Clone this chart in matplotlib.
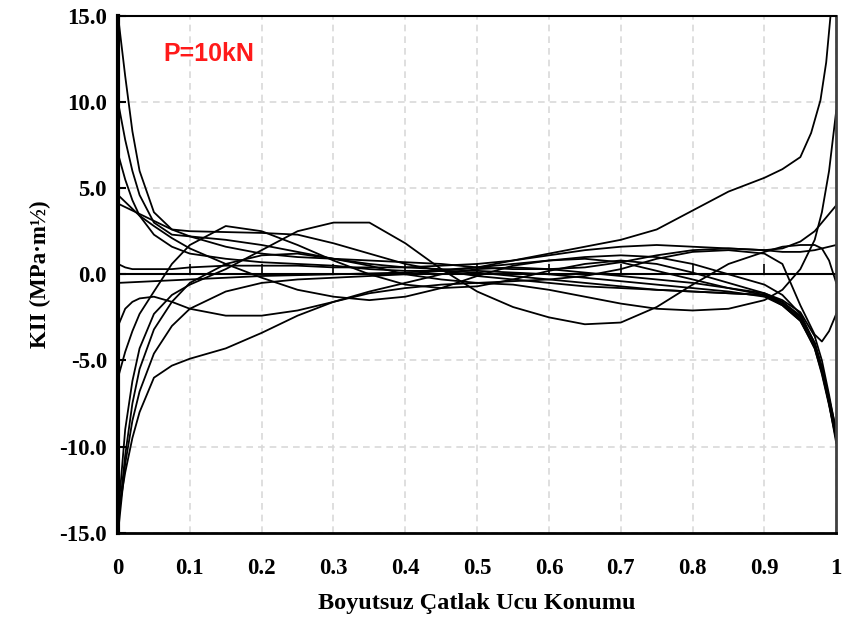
import matplotlib.pyplot as plt
import numpy as np

# x positions (dimensionless crack tip position)
x = [0, 0.01, 0.02, 0.03, 0.05, 0.075, 0.1, 0.15, 0.2, 0.25, 0.3, 0.35, 0.4, 0.45, 0.5,
     0.55, 0.6, 0.65, 0.7, 0.75, 0.8, 0.85, 0.9, 0.925, 0.95, 0.97, 0.98, 0.99, 1.0]

# KII curves
k1 = [15, 11.5, 8.3, 6.0, 3.6, 2.6, 2.5, 2.45, 2.4, 2.3, 1.8, 1.2, 0.6, 0.2, -0.1, -0.3, -0.5,
      -0.7, -0.8, -0.9, -1.0, -1.1, -1.2, -1.6, -2.4, -4.0, -5.5, -7.5, -9.8]
k2 = [10, 7.8, 6.0, 4.6, 3.0, 2.3, 2.2, 2.0, 1.7, 1.3, 0.9, 0.6, 0.4, 0.3, 0.2, 0.1, 0.0,
      -0.2, -0.4, -0.6, -0.8, -1.0, -1.3, -1.8, -2.7, -4.2, -5.5, -7.3, -9.3]
k3 = [7.0, 5.5, 4.3, 3.4, 2.3, 1.6, 1.2, 0.9, 0.7, 0.6, 0.5, 0.3, 0.2, 0.2, 0.1, -0.1, -0.3,
      -0.5, -0.7, -0.9, -1.0, -1.1, -1.2, -1.7, -2.6, -4.3, -5.8, -7.6, -9.6]
k4 = [4.6, 4.2, 3.8, 3.4, 2.8, 2.1, 1.5, 0.6, -0.2, -0.9, -1.3, -1.5, -1.3, -0.8, -0.1, 0.5,
      0.8, 0.9, 0.7, 0.2, -0.3, -0.8, -1.2, -1.8, -2.7, -4.3, -5.7, -7.5, -9.5]
k5 = [4.1, 3.9, 3.7, 3.5, 3.1, 2.6, 2.2, 1.6, 1.2, 1.0, 0.9, 0.8, 0.7, 0.6, 0.4, 0.3, 0.3,
      0.4, 0.7, 1.1, 1.4, 1.5, 1.4, 1.5, 1.9, 2.5, 3.0, 3.5, 4.0]
k6 = [0.6, 0.4, 0.3, 0.3, 0.3, 0.3, 0.4, 0.5, 0.5, 0.5, 0.4, 0.4, 0.4, 0.5, 0.6, 0.8, 1.1,
      1.4, 1.6, 1.7, 1.6, 1.5, 1.4, 1.3, 1.3, 1.4, 1.5, 1.6, 1.7]
k7 = [-3.0, -2.0, -1.6, -1.4, -1.3, -1.6, -2.0, -2.4, -2.4, -2.1, -1.6, -1.0, -0.5, 0.0, 0.3,
      0.4, 0.3, 0.1, -0.1, -0.3, -0.5, -0.8, -1.1, -1.6, -2.5, -4.0, -5.4, -7.2, -9.0]
k8 = [-6.0, -4.5, -3.3, -2.3, -1.0, 0.6, 1.7, 2.8, 2.5, 1.7, 0.8, 0.0, -0.6, -0.8, -0.7, -0.3,
      0.2, 0.6, 0.8, 0.6, 0.1, -0.5, -1.1, -1.5, -2.2, -3.6, -5.0, -7.0, -9.2]
k9 = [-14, -9.0, -6.2, -4.3, -2.3, -1.2, -0.6, 0.3, 1.4, 2.5, 3.0, 3.0, 1.8, 0.3, -1.0, -1.9,
      -2.5, -2.9, -2.8, -1.9, -0.6, 0.6, 1.3, 1.6, 1.7, 1.7, 1.5, 0.8, -0.5]
k10 = [-14.5, -10.5, -7.5, -5.5, -3.2, -1.6, -0.5, 0.6, 1.1, 1.2, 0.9, 0.5, 0.0, -0.3, -0.5,
       -0.6, -0.9, -1.3, -1.7, -2.0, -2.1, -2.0, -1.5, -0.9, 0.3, 2.0, 3.6, 6.0, 9.5]
k11 = [-14, -11.5, -9.5, -8.0, -6.0, -5.3, -4.9, -4.3, -3.4, -2.4, -1.6, -1.1, -0.8, -0.6,
       -0.5, -0.4, -0.3, -0.1, 0.3, 0.9, 1.3, 1.4, 1.2, 0.6, -1.8, -3.5, -3.9, -3.3, -2.3]
k12 = [-15, -11, -8.5, -6.8, -4.6, -3.0, -2.0, -1.0, -0.5, -0.3, -0.2, -0.1, 0.0, 0.2, 0.4,
       0.6, 0.8, 1.0, 1.1, 1.0, 0.6, 0.0, -0.6, -1.2, -2.3, -4.0, -5.4, -7.2, -9.4]
# top curve rising at the right end
x13 = [0, 0.05, 0.1, 0.2, 0.3, 0.4, 0.5, 0.55, 0.6, 0.65, 0.7, 0.75, 0.8, 0.85, 0.9, 0.925,
       0.95, 0.965, 0.978, 0.986, 0.992]
k13 = [-0.5, -0.4, -0.3, -0.1, 0.0, 0.1, 0.4, 0.8, 1.2, 1.6, 2.0, 2.6, 3.7, 4.8, 5.6, 6.1,
       6.8, 8.2, 10.1, 12.3, 15.0]

curves = [k1, k2, k3, k4, k5, k6, k7, k8, k9, k10, k11, k12]

yticks = [-15, -10, -5, 0, 5, 10, 15]
xticks = [0, 0.1, 0.2, 0.3, 0.4, 0.5, 0.6, 0.7, 0.8, 0.9, 1]
xticklabels = ['0', '0.1', '0.2', '0.3', '0.4', '0.5', '0.6', '0.7', '0.8', '0.9', '1']

fig = plt.figure(figsize=(8.43, 6.32), dpi=100)
ax = fig.add_axes([0.140, 0.157, 0.852, 0.818])

ax.grid(True, color='#d9d9d9', linestyle=(0, (4, 3)), linewidth=1.2)
ax.set_axisbelow(True)

for k in curves:
    ax.plot(x, k, color='black', lw=1.3)
ax.plot(x13, k13, color='black', lw=1.3)

# zero line acting as the category axis, small ticks pointing up
ax.axhline(0, color='black', lw=1.5)
ax.plot(xticks[1:-1], [0] * 9, ls='none', marker=2, markersize=7, mew=1.2, color='black')

ax.set_xlim(0, 1)
ax.set_ylim(-15, 15)
ax.set_yticks(yticks)
ax.set_yticklabels(['%.1f' % v for v in yticks])
ax.set_xticks(xticks)
ax.set_xticklabels(xticklabels)

tfont = dict(family='Liberation Serif', weight='bold', size=16.5)
for lab in ax.get_yticklabels() + ax.get_xticklabels():
    lab.set_fontproperties(tfont)
ax.tick_params(axis='y', direction='in', length=6, width=1.5, pad=8)
ax.tick_params(axis='x', length=0, pad=18)

ax.spines['left'].set_linewidth(3)
ax.spines['bottom'].set_linewidth(2)
ax.spines['top'].set_linewidth(1.5)
ax.spines['right'].set_linewidth(2)
ax.spines['right'].set_color('#404040')

ax.set_xlabel('Boyutsuz Çatlak Ucu Konumu', fontdict=dict(family='Liberation Serif',
              weight='bold', size=17.5), labelpad=10)
ax.set_ylabel('KII (MPa·m½)', fontdict=dict(family='Liberation Serif', weight='bold',
              size=16.5), labelpad=6)

ax.text(0.063, 12.8, 'P=10kN', color='#ff1a1a', fontsize=18, fontweight='bold',
        family='Liberation Sans', va='center')

fig.savefig('out.png', dpi=100)
